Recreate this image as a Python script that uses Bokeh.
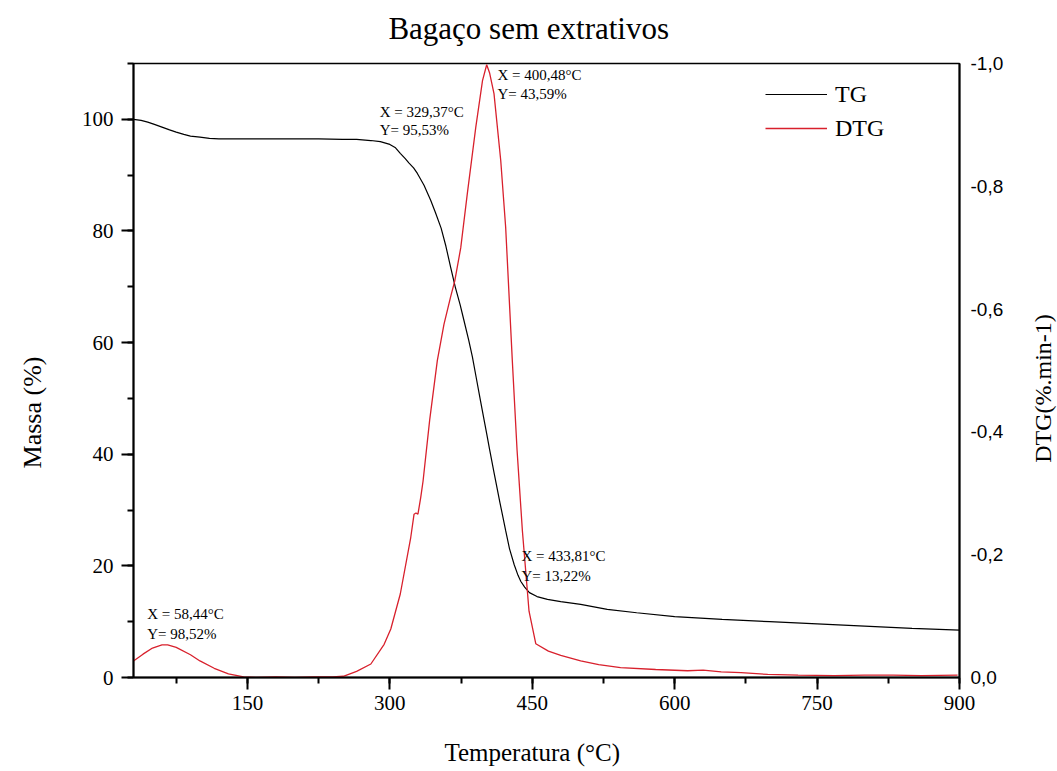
import math
from bokeh.plotting import figure
from bokeh.models import (Range1d, LinearAxis, SingleIntervalTicker, FixedTicker,
                          CustomJSTickFormatter, Legend, LegendItem, Label)
from bokeh.layouts import row, column
from bokeh.core.properties import value
from bokeh.embed import file_html
from bokeh.resources import INLINE

# ---------------- data ----------------
tg_temp = [30, 38, 45, 52, 60, 68, 75, 83, 90, 100, 110, 120, 135, 150, 175, 200, 225,
           250, 265, 280, 290, 300, 306, 311, 316, 320, 325, 329, 336, 343, 348, 354,
           359, 364, 369, 374, 378, 383, 387, 391, 395, 400, 402, 405, 410, 416, 422,
           426, 431, 435, 438, 442, 447, 455, 466, 480, 501, 529, 560, 600, 650, 700,
           750, 800, 850, 900]
tg_mass = [100.0, 99.8, 99.5, 99.1, 98.6, 98.1, 97.7, 97.3, 97.0, 96.8, 96.6, 96.5, 96.5,
           96.5, 96.5, 96.5, 96.5, 96.4, 96.4, 96.2, 96.0, 95.5, 94.9, 93.9, 93.0, 92.2,
           91.3, 90.3, 88.2, 85.5, 83.3, 80.5, 77.3, 73.5, 69.9, 66.8, 64.0, 60.5, 57.4,
           53.7, 50.0, 45.5, 43.7, 40.9, 36.5, 31.3, 26.3, 23.1, 20.2, 18.3, 17.2, 16.2,
           15.2, 14.5, 14.0, 13.6, 13.1, 12.2, 11.6, 10.9, 10.4, 10.0, 9.6, 9.2, 8.8, 8.5]

dtg_temp = [30, 40, 50, 60, 66, 75, 90, 100, 115, 130, 146, 160, 180, 200, 220, 240, 251,
            265, 280, 294, 301, 311, 322, 325.5, 327.5, 329.6, 332.5, 335, 342, 350, 357,
            364, 368.4, 374.7, 381.6, 390.5, 397.6, 402, 405, 409.7, 416.8, 422, 429, 434,
            439.6, 446.6, 453.7, 467, 480, 501, 520, 543, 580, 613.6, 630, 649, 670, 698,
            730, 768, 800, 830, 860, 898]
dtg_mag = [0.027, 0.038, 0.048, 0.053, 0.053, 0.049, 0.037, 0.027, 0.015, 0.006, 0.001,
           0.000, 0.001, 0.000, 0.001, 0.001, 0.002, 0.010, 0.022, 0.054, 0.079, 0.136,
           0.228, 0.266, 0.268, 0.266, 0.293, 0.320, 0.420, 0.516, 0.575, 0.620, 0.646,
           0.700, 0.788, 0.896, 0.972, 0.998, 0.985, 0.951, 0.842, 0.733, 0.516, 0.370,
           0.239, 0.108, 0.055, 0.043, 0.036, 0.027, 0.021, 0.016, 0.013, 0.011, 0.012,
           0.009, 0.008, 0.005, 0.004, 0.003, 0.004, 0.004, 0.003, 0.004]
dtg_vals = [-v for v in dtg_mag]

ann_lines1 = ["X = 58,44°C", "X = 329,37°C", "X = 400,48°C", "X = 433,81°C"]
ann_lines2 = ["Y= 98,52%", "Y= 95,53%", "Y= 43,59%", "Y= 13,22%"]
ann_x = [44.4, 289.3, 413.4, 438.7]
ann_y1 = [11.4, 101.3, 107.9, 21.8]
ann_y2 = [7.8, 98.1, 104.6, 18.2]

right_ticks = [0.0, -0.2, -0.4, -0.6, -0.8, -1.0]

title_text = "Bagaço sem extrativos"
x_title = "Temperatura (°C)"
y_title = "Massa (%)"
y2_title = "DTG(%.min-1)"

SERIF = "Liberation Serif"
SANS = "Liberation Sans"

W, H = 1057, 771
LEFT_W, RIGHT_W, TOP_H, BOTTOM_H = 64, 40, 46, 40
MAIN_W = W - LEFT_W - RIGHT_W
MAIN_H = H - TOP_H - BOTTOM_H
FRAME_L, FRAME_R, FRAME_T, FRAME_B = 133, 959, 63, 677

p = figure(width=MAIN_W, height=MAIN_H, x_range=Range1d(30, 900), y_range=Range1d(0, 110),
           output_backend="svg", toolbar_location=None, title=None,
           min_border_left=FRAME_L - LEFT_W, min_border_right=LEFT_W + MAIN_W - FRAME_R,
           min_border_top=FRAME_T - TOP_H, min_border_bottom=TOP_H + MAIN_H - FRAME_B)
p.extra_y_ranges = {"dtg": Range1d(0, -1.0)}

p.xgrid.visible = False
p.ygrid.visible = False
p.outline_line_color = "black"
p.outline_line_width = 1.5
p.background_fill_color = "white"
p.border_fill_color = "white"

xa = p.xaxis[0]
xa.ticker = SingleIntervalTicker(interval=150, num_minor_ticks=2)
ya = p.yaxis[0]
ya.ticker = SingleIntervalTicker(interval=20, num_minor_ticks=2)

for ax in (xa, ya):
    ax.axis_line_width = 2
    ax.major_tick_line_width = 2
    ax.minor_tick_line_width = 2
    ax.major_tick_in = 0
    ax.major_tick_out = 12
    ax.minor_tick_in = 0
    ax.minor_tick_out = 6
    ax.major_label_text_font = SERIF
    ax.major_label_text_font_size = "21px"
    ax.axis_line_color = "black"
    ax.major_label_text_color = "black"
xa.major_label_standoff = 6
ya.major_label_standoff = 8

ra = LinearAxis(y_range_name="dtg", ticker=FixedTicker(ticks=right_ticks),
                formatter=CustomJSTickFormatter(code="return tick.toFixed(1).replace('.', ',');"))
ra.axis_line_width = 2
ra.axis_line_color = "black"
ra.major_tick_out = 0
ra.major_tick_in = 0
ra.minor_tick_out = 0
ra.minor_tick_in = 0
ra.major_label_text_font = SANS
ra.major_label_text_font_size = "19px"
ra.major_label_text_color = "black"
ra.major_label_standoff = 11
p.add_layout(ra, "right")

r_tg = p.line(tg_temp, tg_mass, color="black", line_width=1.2)
r_dtg = p.line(dtg_temp, dtg_vals, y_range_name="dtg", color="#d8202c", line_width=1.3)

for x, y1, y2, t1, t2 in zip(ann_x, ann_y1, ann_y2, ann_lines1, ann_lines2):
    for yy, tt in ((y1, t1), (y2, t2)):
        p.add_layout(Label(x=x, y=yy, text=tt, text_font=SERIF, text_font_size="15px",
                           text_baseline="middle", text_align="left", text_color="black"))

legend = Legend(items=[LegendItem(label="TG", renderers=[r_tg]),
                       LegendItem(label="DTG", renderers=[r_dtg])],
                location=(632, 534), padding=0, margin=0, spacing=4,
                border_line_alpha=0, background_fill_alpha=0,
                label_text_font=SERIF, label_text_font_size="24px",
                label_text_color="black",
                glyph_width=62, glyph_height=30, label_height=30, label_standoff=8)
p.add_layout(legend, "center")


# strips around the plot carrying the title and axis titles
def strip(w, h):
    f = figure(width=w, height=h, x_range=Range1d(0, w), y_range=Range1d(0, h),
               output_backend="svg", toolbar_location=None, x_axis_type=None,
               y_axis_type=None, min_border=0)
    f.outline_line_color = None
    f.background_fill_color = "white"
    f.border_fill_color = "white"
    return f

top_strip = strip(MAIN_W, TOP_H)
top_strip.text(x=[520 - LEFT_W], y=[TOP_H - 28], text=[title_text],
               text_align="center", text_baseline="middle", text_font=value(SERIF),
               text_font_size="31px", text_color="black")

left_strip = strip(LEFT_W, H)
left_strip.text(x=[32], y=[H - 412], text=[y_title], angle=math.pi / 2,
                text_align="center", text_baseline="middle", text_font=value(SERIF),
                text_font_size="26px", text_color="black")

right_strip = strip(RIGHT_W, H)
right_strip.text(x=[1042 - (W - RIGHT_W)], y=[H - 388], text=[y2_title], angle=math.pi / 2,
                 text_align="center", text_baseline="middle", text_font=value(SERIF),
                 text_font_size="24px", text_color="black")

bottom_strip = strip(MAIN_W, BOTTOM_H)
bottom_strip.text(x=[524 - LEFT_W], y=[H - 752], text=[x_title],
                  text_align="center", text_baseline="middle", text_font=value(SERIF),
                  text_font_size="25px", text_color="black")

layout = row(left_strip, column(top_strip, p, bottom_strip), right_strip)

open("out.html", "w").write(file_html(layout, INLINE))
